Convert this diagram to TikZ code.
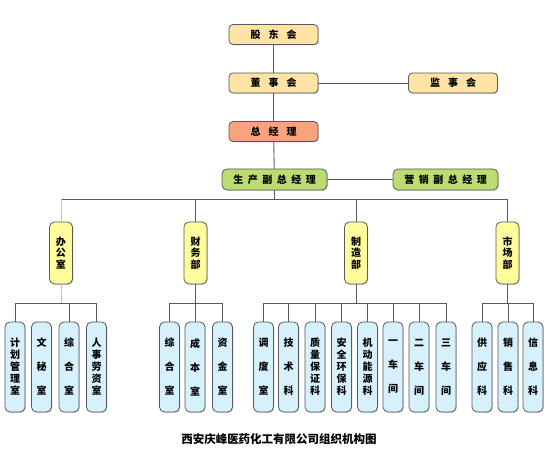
\documentclass[tikz,border=0pt]{standalone}
\usepackage{fontspec}
\setmainfont{Noto Sans CJK SC}
\usetikzlibrary{shadows}
\definecolor{topc}{HTML}{FDE3A4}
\definecolor{gmc}{HTML}{F9A27E}
\definecolor{grc}{HTML}{B9DD6F}
\definecolor{depc}{HTML}{FFFC9C}
\definecolor{subc}{HTML}{D6F1FC}
\newcommand{\chgap}{\hspace{4.5pt}}
\tikzset{
  base/.style={draw=black!65, line width=0.8pt, inner sep=0pt,
    drop shadow={shadow xshift=0.9pt, shadow yshift=-0.9pt, opacity=0.35}},
  topbox/.style={base, rounded corners=4pt, fill=topc, minimum width=89pt, minimum height=20pt,
    font=\fontsize{10}{10}\selectfont\bfseries},
  gmbox/.style={topbox, fill=gmc},
  grbox/.style={base, rounded corners=5pt, fill=grc, minimum width=105pt, minimum height=21pt,
    font=\fontsize{10}{10}\selectfont\bfseries},
  depbox/.style={base, rounded corners=5pt, fill=depc, minimum width=23pt, minimum height=62pt,
    align=center, font=\fontsize{10}{11.5}\selectfont\bfseries},
  subbox/.style={base, rounded corners=5pt, fill=subc, minimum width=20pt, minimum height=90pt,
    align=center, font=\fontsize{10}{24}\selectfont\bfseries},
  subfive/.style={subbox, font=\fontsize{10}{12}\selectfont\bfseries},
  link/.style={draw=black!65, line width=0.9pt},
  lightlink/.style={draw=black!25, line width=0.9pt},
}
\begin{document}
\begin{tikzpicture}[x=1pt, y=-1pt]
\useasboundingbox (0,0) rectangle (550,454);
% top chain
\node[topbox] (gd) at (273.5,34.5) {股\hspace{8pt}东\hspace{8pt}会};
\node[topbox] (dsh) at (273.5,83) {董\hspace{8pt}事\hspace{8pt}会};
\node[topbox] (jsh) at (453,83) {监\hspace{8pt}事\hspace{8pt}会};
\node[gmbox] (zjl) at (273.5,131.5) {总\hspace{8pt}经\hspace{8pt}理};
\node[grbox] (scf) at (274.5,179.5) {生\chgap 产\chgap 副\chgap 总\chgap 经\chgap 理};
\node[grbox] (yxf) at (445.5,179.5) {营\chgap 销\chgap 副\chgap 总\chgap 经\chgap 理};
% departments
\node[depbox] (d1) at (61,253) {办\\公\\室};
\node[depbox] (d2) at (195.5,253) {财\\务\\部};
\node[depbox] (d3) at (356,253) {制\\造\\部};
\node[depbox] (d4) at (507.5,253) {市\\场\\部};
% sub units
\node[subfive] (s11) at (15,367) {计\\划\\管\\理\\室};
\node[subbox] (s12) at (41.5,367) {文\\秘\\室};
\node[subbox] (s13) at (69,367) {综\\合\\室};
\node[subfive] (s14) at (96.5,367) {人\\事\\劳\\资\\室};
\node[subbox] (s21) at (169.5,367) {综\\合\\室};
\node[subbox] (s22) at (195,367) {成\\本\\室};
\node[subbox] (s23) at (222.5,367) {资\\金\\室};
\node[subbox] (s31) at (263.5,367) {调\\度\\室};
\node[subbox] (s32) at (288.5,367) {技\\术\\科};
\node[subfive] (s33) at (315,367) {质\\量\\保\\证\\科};
\node[subfive] (s34) at (341.5,367) {安\\全\\环\\保\\科};
\node[subfive] (s35) at (367.5,367) {机\\动\\能\\源\\科};
\node[subbox] (s36) at (393,367) {一\\车\\间};
\node[subbox] (s37) at (419,367) {二\\车\\间};
\node[subbox] (s38) at (446,367) {三\\车\\间};
\node[subbox] (s41) at (482,367) {供\\应\\科};
\node[subbox] (s42) at (508,367) {销\\售\\科};
\node[subbox] (s43) at (533,367) {信\\息\\科};
% caption
\node[font=\fontsize{11.5}{11.5}\selectfont\bfseries] (cap) at (279,439) {西安庆峰医药化工有限公司组织机构图};
% coordinates for buses
\coordinate (bus) at (0,199);
\coordinate (sb) at (0,303.5);
\draw[link] (gd) -- (dsh);
\draw[link] (dsh) -- (jsh);
\draw[link] (dsh) -- (zjl);
\draw[link] (zjl) -- (scf);
\draw[link] (scf) -- (yxf);
\draw[link] (scf.south) -- (scf.south |- bus);
\draw[link] (d1.north |- bus) -- (d4.north |- bus);
\draw[lightlink] (d1.north |- bus) -- (d1.north);
\draw[link] (d2.north |- bus) -- (d2.north);
\draw[link] (d3.north |- bus) -- (d3.north);
\draw[link] (d4.north |- bus) -- (d4.north);
% office group
\draw[lightlink] (d1.south) -- (d1.south |- sb);
\draw[link] (s11.north) -- (s11.north |- sb) -- (s14.north |- sb) -- (s14.north);
\draw[link] (s13.north |- sb) -- (s13.north);
% finance group
\draw[link] (d2.south) -- (d2.south |- sb);
\draw[link] (s21.north) -- (s21.north |- sb) -- (s23.north |- sb) -- (s23.north);
\draw[link] (s22.north |- sb) -- (s22.north);
% manufacturing group
\draw[link] (d3.south) -- (d3.south |- sb);
\draw[link] (s31.north) -- (s31.north |- sb) -- (s38.north |- sb) -- (s38.north);
\foreach \s in {s32,s33,s34,s35,s36,s37}
  \draw[link] (\s.north |- sb) -- (\s.north);
% market group
\draw[link] (d4.south) -- (d4.south |- sb);
\draw[link] (s41.north) -- (s41.north |- sb) -- (s43.north |- sb) -- (s43.north);
\draw[link] (s42.north |- sb) -- (s42.north);
\end{tikzpicture}
\end{document}
